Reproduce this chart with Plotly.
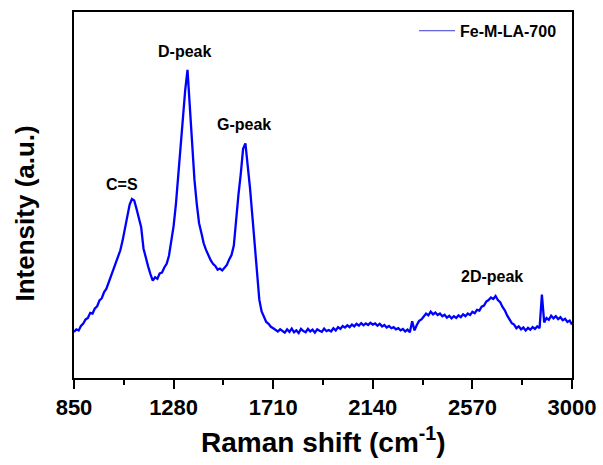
import plotly.graph_objects as go

# Raman shift grid (cm^-1), 10 cm^-1 spacing
raman_shift = list(range(850, 3001, 10))

# Intensity (a.u.)
intensity = [
    12.6, 13.3, 13.0, 14.2, 14.9, 16.0, 16.4, 17.8, 17.6, 19.0,   # 850-940
    19.6, 21.2, 21.8, 23.5, 24.4, 26.2, 27.6, 29.8, 31.2, 33.6,   # 950-1040
    34.9, 37.6, 40.8, 44.2, 47.3, 48.9, 48.5, 46.2, 43.8, 41.2,   # 1050-1140
    35.4, 32.6, 30.5, 28.4, 26.6, 27.5, 27.1, 28.6, 28.8, 30.2,   # 1150-1240
    31.2, 33.4, 37.2, 41.5, 47.5, 55.4, 62.7, 70.3, 78.6, 84.2,   # 1250-1340
    74.5, 63.8, 54.2, 47.6, 42.3, 39.6, 36.8, 35.0, 33.4, 32.2,   # 1350-1440
    31.2, 30.6, 29.6, 29.9, 29.4, 30.2, 30.9, 32.4, 33.6, 36.2,   # 1450-1540
    44.2, 50.1, 55.8, 62.6, 64.1, 58.4, 51.8, 44.3, 36.2, 28.6,   # 1550-1640
    21.4, 18.2, 16.5, 15.3, 14.8, 14.0, 13.6, 13.2, 12.7, 13.3,   # 1650-1740
    12.9, 12.4, 13.3, 12.6, 13.5, 12.5, 13.0, 12.3, 13.4, 12.8,   # 1750-1840
    12.5, 13.4, 12.7, 13.2, 12.4, 13.3, 12.9, 12.6, 13.5, 12.8,   # 1850-1940
    13.1, 12.7, 13.6, 13.0, 13.9, 13.4, 14.2, 13.8, 14.4, 13.9,   # 1950-2040
    14.6, 14.1, 14.8, 14.3, 15.0, 14.4, 14.9, 14.5, 15.1, 14.6,   # 2050-2140
    14.9, 14.3, 14.8, 14.1, 14.5, 13.8, 14.2, 13.6, 13.9, 13.3,   # 2150-2240
    13.6, 13.0, 13.4, 12.7, 13.2, 12.5, 15.5, 13.0, 14.5, 15.6,   # 2250-2340
    16.0, 16.9, 17.6, 17.1, 18.1, 17.4, 17.9, 17.2, 17.6, 16.9,   # 2350-2440
    17.3, 16.5, 17.0, 16.3, 16.9, 16.4, 17.1, 16.6, 17.4, 16.9,   # 2450-2540
    17.6, 17.2, 18.1, 17.7, 18.6, 18.4, 19.5, 19.8, 20.9, 21.3,   # 2550-2640
    22.0, 21.6, 22.4, 21.3, 20.7, 19.4, 18.5, 17.1, 16.2, 15.0,   # 2650-2740
    14.6, 13.6, 14.1, 13.3, 13.8, 13.0, 13.7, 13.2, 13.9, 13.4,   # 2750-2840
    14.1, 13.6, 22.8, 15.2, 16.4, 15.9, 17.0, 16.3, 16.9, 16.1,   # 2850-2940
    16.6, 15.8, 16.2, 15.3, 15.7, 14.6,                           # 2950-3000
]

x_ticks = [850, 1280, 1710, 2140, 2570, 3000]
x_minor_ticks = [1065, 1495, 1925, 2355, 2785]
series_name = "Fe-M-LA-700"
peak_labels = ["C=S", "D-peak", "G-peak", "2D-peak"]
peak_label_x = [1057, 1329, 1584, 2654]
peak_label_y = [53.0, 89.1, 69.4, 27.6]

FONT = "Liberation Sans, Arial, sans-serif"

fig = go.Figure()
fig.add_trace(go.Scatter(
    x=raman_shift, y=intensity, mode="lines",
    line=dict(color="#0000ff", width=2.3),
    showlegend=False, hoverinfo="x+y",
))
# legend entry (thin line sample as in the reference)
fig.add_trace(go.Scatter(
    x=[None], y=[None], mode="lines", name=f"<b>{series_name}</b>",
    line=dict(color="#3a3ad0", width=1),
))

for txt, px, py in zip(peak_labels, peak_label_x, peak_label_y):
    fig.add_annotation(x=px, y=py, text=f"<b>{txt}</b>", showarrow=False,
                       font=dict(family=FONT, size=16, color="black"))

# axis titles placed as annotations for exact positioning
fig.add_annotation(xref="paper", yref="paper", x=0.5, y=-0.169,
                   xanchor="center", yanchor="middle", showarrow=False,
                   text="<b>Raman shift (cm<sup>-1</sup>)</b>",
                   font=dict(family=FONT, size=28, color="black"))
fig.add_annotation(xref="paper", yref="paper", x=-0.098, y=0.45,
                   xanchor="center", yanchor="middle", showarrow=False,
                   textangle=-90, text="<b>Intensity (a.u.)</b>",
                   font=dict(family=FONT, size=26, color="black"))

fig.update_layout(
    width=603, height=465,
    margin=dict(l=74, r=31, t=12, b=87),
    paper_bgcolor="white", plot_bgcolor="white",
    font=dict(family=FONT, color="black"),
    legend=dict(x=0.98, y=0.995, xanchor="right", yanchor="top",
                bgcolor="rgba(0,0,0,0)", borderwidth=0,
                font=dict(family=FONT, size=16, color="black"),
                itemwidth=36),
)
fig.update_xaxes(
    range=[850, 3000], tickvals=x_ticks,
    ticktext=[f"<b>{v}</b>" for v in x_ticks],
    tickfont=dict(family=FONT, size=22, color="black"),
    ticks="outside", ticklen=9, tickwidth=2, tickcolor="black",
    minor=dict(ticks="outside", ticklen=5, tickwidth=2, tickcolor="black",
               tickvals=x_minor_ticks),
    showline=True, linewidth=2, linecolor="black", mirror=True,
    showgrid=False, zeroline=False, automargin=False,
)
fig.update_yaxes(
    range=[0, 100], showticklabels=False, ticks="",
    showline=True, linewidth=2, linecolor="black", mirror=True,
    showgrid=False, zeroline=False, automargin=False,
)

fig.write_html("out.html",
               config={"displayModeBar": False},
               post_script="document.body.style.margin='0';"
                           "document.body.style.overflow='hidden';")
